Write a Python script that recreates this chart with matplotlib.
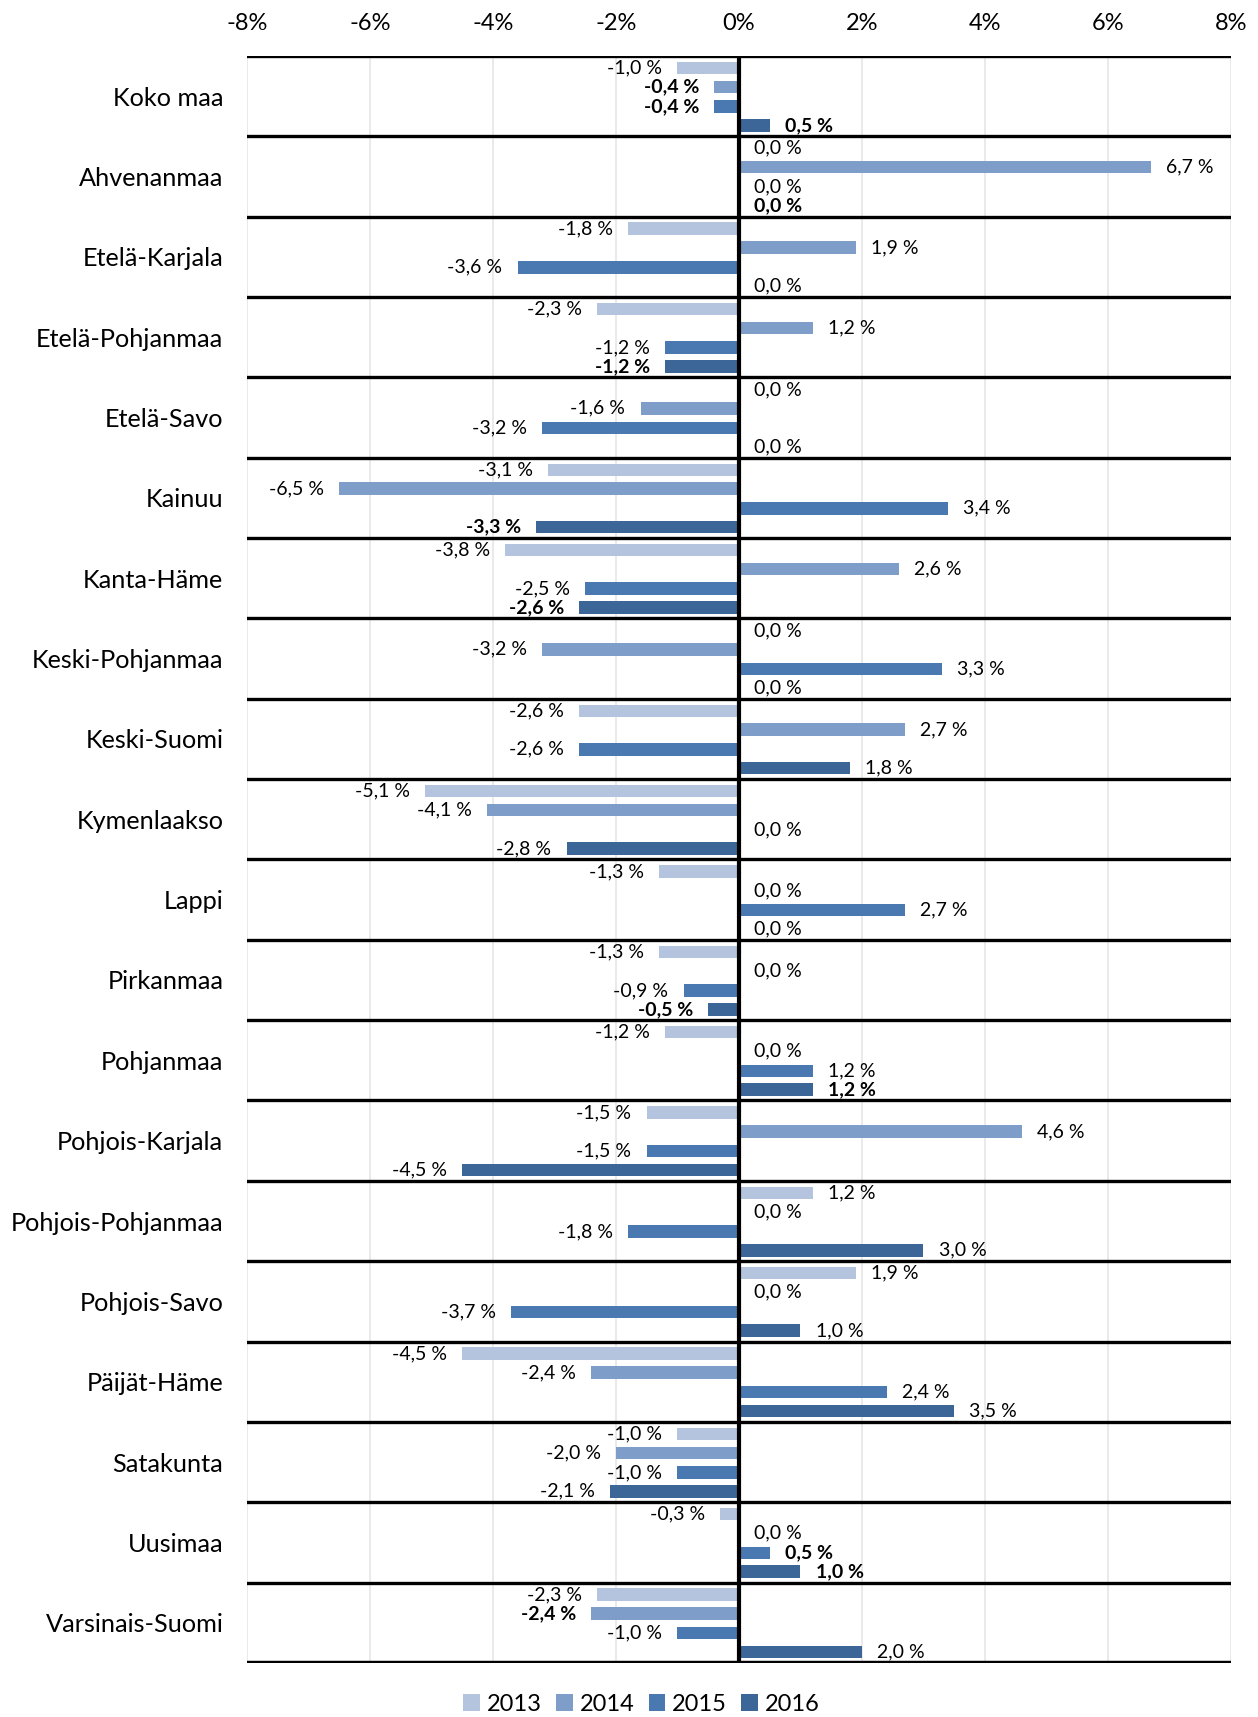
import numpy as np
import matplotlib.pyplot as plt

regions = ["Koko maa", "Ahvenanmaa", "Etelä-Karjala", "Etelä-Pohjanmaa", "Etelä-Savo",
           "Kainuu", "Kanta-Häme", "Keski-Pohjanmaa", "Keski-Suomi", "Kymenlaakso",
           "Lappi", "Pirkanmaa", "Pohjanmaa", "Pohjois-Karjala", "Pohjois-Pohjanmaa",
           "Pohjois-Savo", "Päijät-Häme", "Satakunta", "Uusimaa", "Varsinais-Suomi"]
years = ["2013", "2014", "2015", "2016"]

v2013 = [-1.0, 0.0, -1.8, -2.3, 0.0, -3.1, -3.8, 0.0, -2.6, -5.1,
         -1.3, -1.3, -1.2, -1.5, 1.2, 1.9, -4.5, -1.0, -0.3, -2.3]
v2014 = [-0.4, 6.7, 1.9, 1.2, -1.6, -6.5, 2.6, -3.2, 2.7, -4.1,
         0.0, 0.0, 0.0, 4.6, 0.0, 0.0, -2.4, -2.0, 0.0, -2.4]
v2015 = [-0.4, 0.0, -3.6, -1.2, -3.2, 3.4, -2.5, 3.3, -2.6, 0.0,
         2.7, -0.9, 1.2, -1.5, -1.8, -3.7, 2.4, -1.0, 0.5, -1.0]
v2016 = [0.5, 0.0, 0.0, -1.2, 0.0, -3.3, -2.6, 0.0, 1.8, -2.8,
         0.0, -0.5, 1.2, -4.5, 3.0, 1.0, 3.5, -2.1, 1.0, 2.0]

# labels printed in bold in the source
bold2014 = ["Koko maa", "Varsinais-Suomi"]
bold2015 = ["Koko maa", "Uusimaa"]
bold2016 = ["Koko maa", "Ahvenanmaa", "Etelä-Pohjanmaa", "Kainuu", "Kanta-Häme",
            "Pirkanmaa", "Pohjanmaa", "Uusimaa"]

colors = ["#B4C4DF", "#7F9DC9", "#4A79B1", "#3D6698"]
series = [v2013, v2014, v2015, v2016]
bolds = [[], bold2014, bold2015, bold2016]

plt.rcParams['font.family'] = ['Lato', 'DejaVu Sans']

fig = plt.figure(figsize=(12.58, 17.17), dpi=100)
ax = fig.add_axes([0.1963, 0.0315, 0.9785 - 0.1963, 0.9674 - 0.0315])

y = np.arange(len(regions))
offsets = [-0.35, -0.115, 0.13, 0.365]
for j, vals in enumerate(series):
    ypos = y + offsets[j]
    ax.barh(ypos, vals, height=0.155, color=colors[j], label=years[j], zorder=3)
    for k, v in enumerate(vals):
        txt = ("%.1f" % v).replace(".", ",") + " %"
        w = "bold" if regions[k] in bolds[j] else "normal"
        if v < 0:
            ax.annotate(txt, (v, ypos[k]), xytext=(-11, 0), textcoords="offset points",
                        ha="right", va="center", fontsize=14, fontweight=w, zorder=5)
        else:
            ax.annotate(txt, (v, ypos[k]), xytext=(11, 0), textcoords="offset points",
                        ha="left", va="center", fontsize=14, fontweight=w, zorder=5)

ax.set_xlim(-8, 8)
ax.set_ylim(len(regions) - 0.5, -0.5)
ax.xaxis.tick_top()
ax.set_xticks(np.arange(-8, 9, 2))
ax.set_xticklabels(["%d%%" % t for t in range(-8, 9, 2)], fontsize=17)
ax.tick_params(axis="x", length=0, pad=16)
ax.set_yticks(y)
ax.set_yticklabels(regions, fontsize=18.2)
ax.tick_params(axis="y", length=0, pad=17)

for t in np.arange(-8, 9, 2):
    ax.axvline(t, color="#E6E6E6", lw=1.2, zorder=0)
for b in np.arange(-0.5, len(regions) - 1, 1):
    ax.axhline(b, color="black", lw=2.4, zorder=4)
ax.axhline(len(regions) - 0.5, color="black", lw=3.2, zorder=4)
ax.axvline(0, color="black", lw=3, zorder=6)

for s in ax.spines.values():
    s.set_visible(False)

leg = fig.legend(loc="center", bbox_to_anchor=(0.51, 0.0075), ncol=4, frameon=False,
                 fontsize=17, handlelength=0.7, handleheight=0.7, handletextpad=0.3,
                 columnspacing=0.6)

fig.savefig("out.png", dpi=100)
